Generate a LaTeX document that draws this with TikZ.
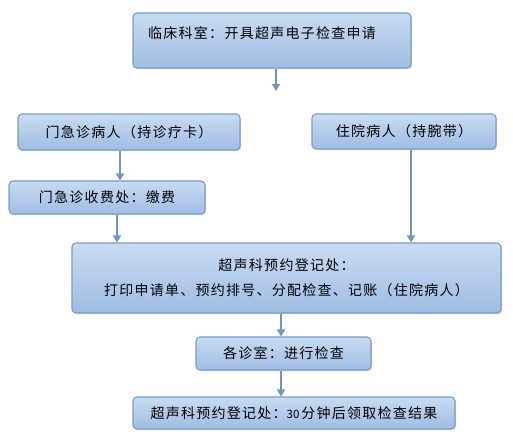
\documentclass[tikz,border=0pt]{standalone}
\usepackage{fontspec}
\newfontfamily\cjk[LetterSpace=9]{Noto Sans CJK SC}
\newfontfamily\cjknum{Noto Sans CJK SC}
\usetikzlibrary{arrows.meta,shadows}
\definecolor{boxtop}{HTML}{C8DCF2}
\definecolor{boxbot}{HTML}{9FBCE3}
\definecolor{boxline}{HTML}{7A9DC8}
\definecolor{arr}{HTML}{7096C0}
\tikzset{
  box/.style={draw=boxline, line width=1.1pt, rounded corners=4pt,
    top color=boxtop, bottom color=boxbot, inner sep=0pt,
    drop shadow={shadow xshift=1pt, shadow yshift=-1.2pt, opacity=0.18, fill=black},
    font=\cjk\fontsize{14}{17}\selectfont, align=center},
  txt/.style={font=\cjk\fontsize{14}{17}\selectfont, inner sep=0pt},
  conn/.style={draw=arr, line width=1.8pt, -{Triangle[length=7pt,width=8pt]}, shorten >=0pt}
}
\begin{document}
\begin{tikzpicture}[x=1pt,y=-1pt]
\useasboundingbox (0,0) rectangle (513,446);
\node[box, minimum width=278pt, minimum height=55pt] (b1) at (272,40.5) {};
\node[txt, anchor=west] (b1t) at (148,33) {临床科室：开具超声电子检查申请};
\coordinate (e1) at (276,91);
\node[box, minimum width=222pt, minimum height=36pt] (b2) at (129,132) {门急诊病人（持诊疗卡）};
\node[box, minimum width=196pt, minimum height=33pt] (b3) at (107,197.5) {门急诊收费处：缴费};
\node[box, minimum width=184pt, minimum height=35pt] (b5) at (404,131.5) {住院病人（持腕带）};
\node[box, minimum width=429pt, minimum height=70pt] (b4) at (286.5,278) {超声科预约登记处：\\[8pt]打印申请单、预约排号、分配检查、记账（住院病人）};
\node[box, minimum width=175pt, minimum height=33pt] (b6) at (283.5,353.5) {各诊室：进行检查};
\node[box, minimum width=322pt, minimum height=32pt] (b7) at (294,413) {超声科预约登记处：{\cjknum\fontsize{11.5}{12}\selectfont 30\,}分钟后领取检查结果};
\coordinate (x1) at (120,0);
\coordinate (x2) at (117,0);
\coordinate (x3) at (411,0);
\coordinate (x4) at (281,0);
\draw[conn] (b1.south -| e1) -- (e1);
\draw[conn] (b2.south -| x1) -- (b3.north -| x1);
\draw[conn] (b3.south -| x2) -- (b4.north -| x2);
\draw[conn] (b5.south -| x3) -- (b4.north -| x3);
\draw[conn] (b4.south -| x4) -- (b6.north -| x4);
\draw[conn] (b6.south -| x4) -- (b7.north -| x4);
\end{tikzpicture}
\end{document}
